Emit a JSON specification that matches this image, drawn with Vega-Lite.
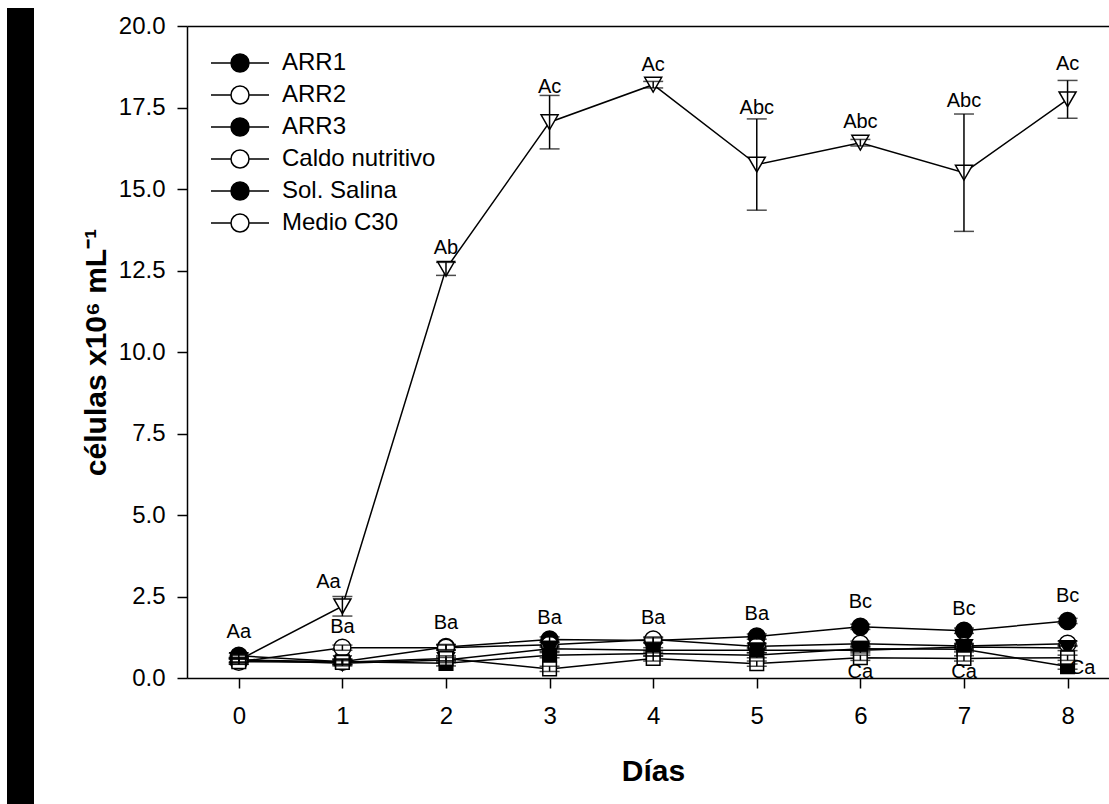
{
  "$schema": "https://vega.github.io/schema/vega-lite/v6.json",
  "autosize": {"type": "none"},
  "width": 922,
  "height": 652,
  "padding": {"left": 187, "top": 26, "right": 0, "bottom": 126},
  "background": "white",
  "config": {
    "view": {"stroke": null},
    "font": "Liberation Sans",
    "axis": {
      "grid": false,
      "domainColor": "black",
      "domainWidth": 1.5,
      "tickColor": "black",
      "tickWidth": 1.5,
      "tickSize": 10,
      "labelColor": "black",
      "labelFont": "Liberation Sans",
      "labelFontSize": 24,
      "titleFont": "Liberation Sans",
      "titleFontWeight": "bold",
      "titleColor": "black"
    },
    "legend": {
      "labelFont": "Liberation Sans",
      "labelFontSize": 24,
      "labelColor": "black",
      "gradientVerticalMaxLength": 1000
    }
  },
  "datasets": {
    "series": [
      {"serie": "ARR1", "dia": 0, "valor": 0.68, "err": 0.08},
      {"serie": "ARR1", "dia": 1, "valor": 0.5, "err": 0.08},
      {"serie": "ARR1", "dia": 2, "valor": 0.95, "err": 0.08},
      {"serie": "ARR1", "dia": 3, "valor": 1.18, "err": 0.08},
      {"serie": "ARR1", "dia": 4, "valor": 1.15, "err": 0.08},
      {"serie": "ARR1", "dia": 5, "valor": 1.27, "err": 0.08},
      {"serie": "ARR1", "dia": 6, "valor": 1.57, "err": 0.08},
      {"serie": "ARR1", "dia": 7, "valor": 1.45, "err": 0.08},
      {"serie": "ARR1", "dia": 8, "valor": 1.75, "err": 0.08},
      {"serie": "ARR2", "dia": 0, "valor": 0.5, "err": 0.08},
      {"serie": "ARR2", "dia": 1, "valor": 0.93, "err": 0.08},
      {"serie": "ARR2", "dia": 2, "valor": 0.93, "err": 0.08},
      {"serie": "ARR2", "dia": 3, "valor": 1.02, "err": 0.08},
      {"serie": "ARR2", "dia": 4, "valor": 1.18, "err": 0.08},
      {"serie": "ARR2", "dia": 5, "valor": 0.97, "err": 0.08},
      {"serie": "ARR2", "dia": 6, "valor": 1.05, "err": 0.08},
      {"serie": "ARR2", "dia": 7, "valor": 0.98, "err": 0.08},
      {"serie": "ARR2", "dia": 8, "valor": 1.05, "err": 0.08},
      {"serie": "ARR3", "dia": 0, "valor": 0.55, "err": 0.08},
      {"serie": "ARR3", "dia": 1, "valor": 0.45, "err": 0.08},
      {"serie": "ARR3", "dia": 2, "valor": 0.55, "err": 0.08},
      {"serie": "ARR3", "dia": 3, "valor": 0.9, "err": 0.08},
      {"serie": "ARR3", "dia": 4, "valor": 0.85, "err": 0.08},
      {"serie": "ARR3", "dia": 5, "valor": 0.85, "err": 0.08},
      {"serie": "ARR3", "dia": 6, "valor": 0.85, "err": 0.08},
      {"serie": "ARR3", "dia": 7, "valor": 0.95, "err": 0.08},
      {"serie": "ARR3", "dia": 8, "valor": 0.92, "err": 0.08},
      {"serie": "Caldo nutritivo", "dia": 0, "valor": 0.55, "err": 0.05},
      {"serie": "Caldo nutritivo", "dia": 1, "valor": 2.2, "err": 0.3},
      {"serie": "Caldo nutritivo", "dia": 2, "valor": 12.55, "err": 0.2},
      {"serie": "Caldo nutritivo", "dia": 3, "valor": 17.05, "err": 0.82},
      {"serie": "Caldo nutritivo", "dia": 4, "valor": 18.2, "err": 0.1},
      {"serie": "Caldo nutritivo", "dia": 5, "valor": 15.75, "err": 1.4},
      {"serie": "Caldo nutritivo", "dia": 6, "valor": 16.42, "err": 0.1},
      {"serie": "Caldo nutritivo", "dia": 7, "valor": 15.5, "err": 1.8},
      {"serie": "Caldo nutritivo", "dia": 8, "valor": 17.75, "err": 0.58},
      {"serie": "Sol. Salina", "dia": 0, "valor": 0.55, "err": 0.08},
      {"serie": "Sol. Salina", "dia": 1, "valor": 0.5, "err": 0.08},
      {"serie": "Sol. Salina", "dia": 2, "valor": 0.45, "err": 0.08},
      {"serie": "Sol. Salina", "dia": 3, "valor": 0.7, "err": 0.08},
      {"serie": "Sol. Salina", "dia": 4, "valor": 0.75, "err": 0.08},
      {"serie": "Sol. Salina", "dia": 5, "valor": 0.7, "err": 0.08},
      {"serie": "Sol. Salina", "dia": 6, "valor": 0.9, "err": 0.08},
      {"serie": "Sol. Salina", "dia": 7, "valor": 0.88, "err": 0.08},
      {"serie": "Sol. Salina", "dia": 8, "valor": 0.35, "err": 0.08},
      {"serie": "Medio C30", "dia": 0, "valor": 0.5, "err": 0.08},
      {"serie": "Medio C30", "dia": 1, "valor": 0.48, "err": 0.08},
      {"serie": "Medio C30", "dia": 2, "valor": 0.6, "err": 0.08},
      {"serie": "Medio C30", "dia": 3, "valor": 0.28, "err": 0.08},
      {"serie": "Medio C30", "dia": 4, "valor": 0.6, "err": 0.08},
      {"serie": "Medio C30", "dia": 5, "valor": 0.44, "err": 0.08},
      {"serie": "Medio C30", "dia": 6, "valor": 0.62, "err": 0.08},
      {"serie": "Medio C30", "dia": 7, "valor": 0.6, "err": 0.08},
      {"serie": "Medio C30", "dia": 8, "valor": 0.62, "err": 0.08}
    ],
    "letras": [
      {"dia": 1, "y": 2.93, "texto": "Aa"},
      {"dia": 2, "y": 13.2, "texto": "Ab"},
      {"dia": 3, "y": 18.14, "texto": "Ac"},
      {"dia": 4, "y": 18.79, "texto": "Ac"},
      {"dia": 5, "y": 17.5, "texto": "Abc"},
      {"dia": 6, "y": 17.04, "texto": "Abc"},
      {"dia": 7, "y": 17.69, "texto": "Abc"},
      {"dia": 8, "y": 18.82, "texto": "Ac"},
      {"dia": 0, "y": 1.4, "texto": "Aa"},
      {"dia": 1, "y": 1.55, "texto": "Ba"},
      {"dia": 2, "y": 1.7, "texto": "Ba"},
      {"dia": 3, "y": 1.83, "texto": "Ba"},
      {"dia": 4, "y": 1.83, "texto": "Ba"},
      {"dia": 5, "y": 1.95, "texto": "Ba"},
      {"dia": 6, "y": 2.32, "texto": "Bc"},
      {"dia": 7, "y": 2.13, "texto": "Bc"},
      {"dia": 8, "y": 2.53, "texto": "Bc"},
      {"dia": 6, "y": 0.17, "texto": "Ca"},
      {"dia": 7, "y": 0.17, "texto": "Ca"},
      {"dia": 8, "y": 0.32, "texto": "Ca"}
    ]
  },
  "layer": [
    {
      "data": {"name": "series"},
      "mark": {"type": "line", "color": "black", "strokeWidth": 1.5},
      "encoding": {
        "x": {
          "field": "dia", "type": "quantitative",
          "scale": {"domain": [-0.5, 8.4], "nice": false, "zero": false},
          "axis": {"values": [0, 1, 2, 3, 4, 5, 6, 7, 8], "format": "d", "title": "Días", "titleFontSize": 30, "titleX": 466, "titleY": 102, "titleBaseline": "alphabetic", "labelPadding": 16, "labelFlush": false}
        },
        "y": {
          "field": "valor", "type": "quantitative",
          "scale": {"domain": [0, 20], "nice": false, "zero": false},
          "axis": {"values": [0, 2.5, 5, 7.5, 10, 12.5, 15, 17.5, 20], "format": ".1f", "title": "células x10⁶ mL⁻¹", "titleFontSize": 30, "titleX": -82, "titleBaseline": "alphabetic", "labelPadding": 12, "labelFlush": false}
        },
        "detail": {"field": "serie"}
      }
    },
    {
      "data": {"name": "series"},
      "mark": {"type": "point", "filled": true, "size": 289, "stroke": "black", "strokeWidth": 1.5, "opacity": 1},
      "encoding": {
        "x": {"field": "dia", "type": "quantitative", "scale": {"domain": [-0.5, 8.4], "nice": false, "zero": false}, "axis": null},
        "y": {"field": "valor", "type": "quantitative", "scale": {"domain": [0, 20], "nice": false, "zero": false}, "axis": null},
        "shape": {
          "field": "serie", "type": "nominal",
          "scale": {
            "range": ["circle", "circle", "triangle-down", "triangle-down", "M-0.8,-0.8H0.8V0.8H-0.8Z", "M-0.8,-0.8H0.8V0.8H-0.8Z"]
          },
          "legend": null
        },
        "fill": {
          "field": "serie", "type": "nominal",
          "scale": {
            "domain": ["ARR1", "ARR2", "ARR3", "Caldo nutritivo", "Sol. Salina", "Medio C30"],
            "range": ["black", "white", "black", "white", "black", "white"]
          },
          "legend": {
            "title": null,
            "orient": "none",
            "legendX": 41,
            "legendY": 25,
            "padding": 0,
            "symbolSize": 400,
            "symbolType": "M-2.9,0H-0.9M0.9,0H2.9M0.9,0A0.9,0.9,0,1,1,-0.9,0A0.9,0.9,0,1,1,0.9,0Z",
            "rowPadding": 8,
            "labelOffset": 30,
            "symbolStrokeWidth": 1.5,
            "symbolStrokeColor": "black",
            "encode": {
              "symbols": {
                "stroke": {"value": "black"},
                "strokeWidth": {"value": 1.5},
                "opacity": {"value": 1}
              }
            }
          }
        }
      }
    },
    {
      "data": {"name": "series"},
      "mark": {"type": "errorbar", "ticks": true, "size": 20, "thickness": 1.5, "color": "black"},
      "encoding": {
        "x": {"field": "dia", "type": "quantitative", "scale": {"domain": [-0.5, 8.4], "nice": false, "zero": false}, "axis": null},
        "y": {"field": "valor", "type": "quantitative", "scale": {"domain": [0, 20], "nice": false, "zero": false}, "axis": null},
        "yError": {"field": "err"}
      }
    },
    {
      "data": {"name": "letras"},
      "transform": [{"filter": "!((datum.dia == 1 && datum.texto == 'Aa') || (datum.dia == 8 && datum.texto == 'Ca'))"}],
      "mark": {"type": "text", "font": "Liberation Sans", "fontSize": 20, "baseline": "middle", "align": "center"},
      "encoding": {
        "x": {"field": "dia", "type": "quantitative", "scale": {"domain": [-0.5, 8.4], "nice": false, "zero": false},
          "axis": {"orient": "top", "labels": false, "ticks": false, "title": null, "domainWidth": 1.5}},
        "y": {"field": "y", "type": "quantitative", "scale": {"domain": [0, 20], "nice": false, "zero": false}, "axis": null},
        "color": {
          "field": "y", "type": "quantitative",
          "scale": {"range": ["black", "black"]},
          "legend": {"orient": "none", "legendX": -180, "legendY": -18, "direction": "vertical", "gradientLength": 796, "gradientThickness": 27, "gradientStrokeWidth": 0, "labelOpacity": 0, "labelFontSize": 1, "title": null, "padding": 0}
        },
        "text": {"field": "texto"}
      }
    },
    {
      "data": {"name": "letras"},
      "transform": [{"filter": "datum.dia == 1 && datum.texto == 'Aa'"}],
      "mark": {"type": "text", "font": "Liberation Sans", "fontSize": 20, "baseline": "middle", "align": "center", "color": "black", "dx": -14},
      "encoding": {
        "x": {"field": "dia", "type": "quantitative", "scale": {"domain": [-0.5, 8.4], "nice": false, "zero": false}, "axis": null},
        "y": {"field": "y", "type": "quantitative", "scale": {"domain": [0, 20], "nice": false, "zero": false}, "axis": null},
        "text": {"field": "texto"}
      }
    },
    {
      "data": {"name": "letras"},
      "transform": [{"filter": "datum.dia == 8 && datum.texto == 'Ca'"}],
      "mark": {"type": "text", "font": "Liberation Sans", "fontSize": 20, "baseline": "middle", "align": "center", "color": "black", "dx": 15},
      "encoding": {
        "x": {"field": "dia", "type": "quantitative", "scale": {"domain": [-0.5, 8.4], "nice": false, "zero": false}, "axis": null},
        "y": {"field": "y", "type": "quantitative", "scale": {"domain": [0, 20], "nice": false, "zero": false}, "axis": null},
        "text": {"field": "texto"}
      }
    }
  ],
  "resolve": {"axis": {"x": "independent", "y": "independent"}}
}
